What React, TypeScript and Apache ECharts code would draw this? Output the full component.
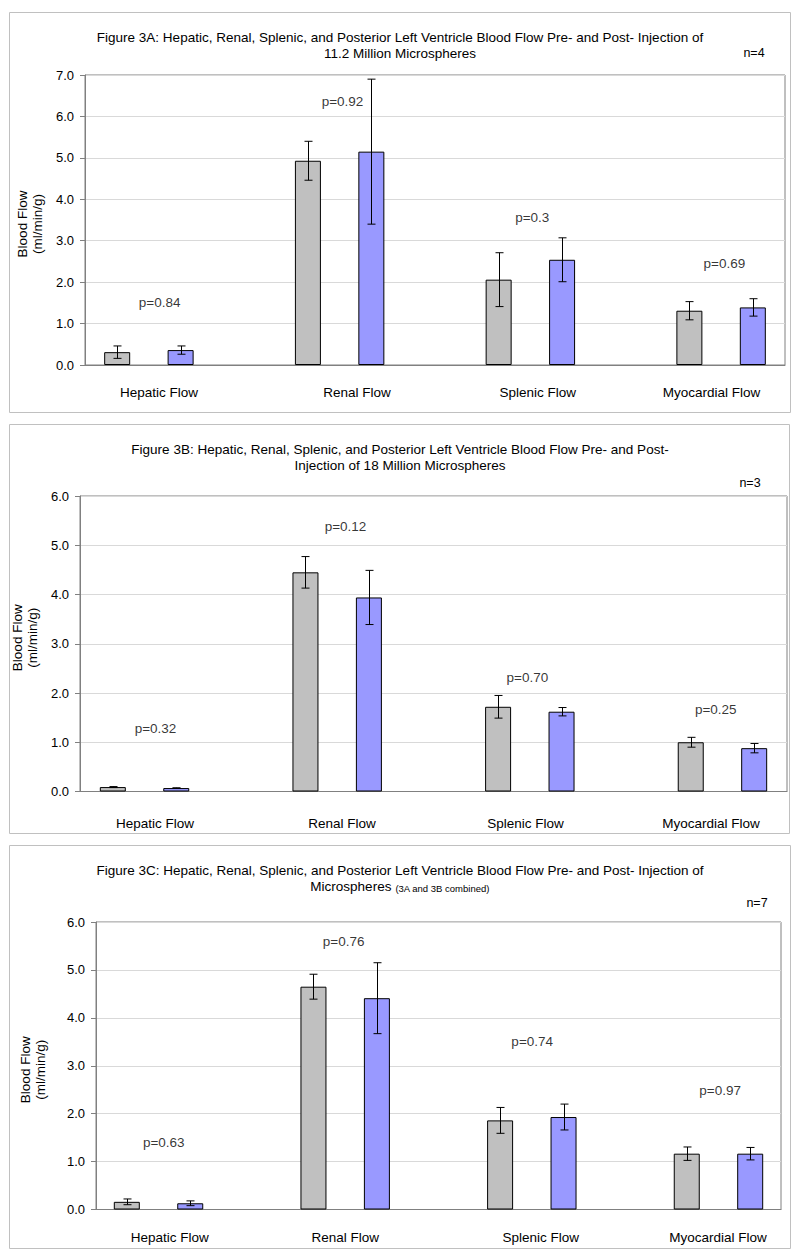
import React, { useEffect, useRef } from "react";
import * as echarts from "echarts";

// ---------------- DATA ----------------
const categories = ["Hepatic Flow", "Renal Flow", "Splenic Flow", "Myocardial Flow"];

// Figure 3A (n=4)
const preA = [0.31, 4.93, 2.06, 1.31];
const preErrA = [0.15, 0.47, 0.65, 0.22];
const postA = [0.36, 5.15, 2.54, 1.39];
const postErrA = [0.1, 1.75, 0.53, 0.21];
const pTextA = ["p=0.84", "p=0.92", "p=0.3", "p=0.69"];
const pXA = [0.056, 1.015, 2.01, 3.017];
const pYA = [1.5, 6.37, 3.56, 2.45];
const yTicksA = ["0.0", "1.0", "2.0", "3.0", "4.0", "5.0", "6.0", "7.0"];

// Figure 3B (n=3)
const preB = [0.09, 4.45, 1.72, 1.0];
const preErrB = [0.01, 0.32, 0.23, 0.1];
const postB = [0.07, 3.94, 1.62, 0.88];
const postErrB = [0.005, 0.55, 0.085, 0.095];
const pTextB = ["p=0.32", "p=0.12", "p=0.70", "p=0.25"];
const pXB = [0.057, 1.043, 1.987, 2.965];
const pYB = [1.27, 5.39, 2.31, 1.655];
const yTicksB = ["0.0", "1.0", "2.0", "3.0", "4.0", "5.0", "6.0"];

// Figure 3C (n=7)
const preC = [0.16, 4.65, 1.86, 1.165];
const preErrC = [0.06, 0.26, 0.27, 0.14];
const postC = [0.13, 4.41, 1.93, 1.165];
const postErrC = [0.05, 0.74, 0.27, 0.13];
const pTextC = ["p=0.63", "p=0.76", "p=0.74", "p=0.97"];
const pXC = [0.028, 0.992, 2.002, 3.009];
const pYC = [1.39, 5.59, 3.5, 2.49];
const yTicksC = ["0.0", "1.0", "2.0", "3.0", "4.0", "5.0", "6.0"];

const titleA =
  "Figure 3A: Hepatic, Renal, Splenic, and Posterior Left Ventricle Blood Flow Pre- and Post- Injection of\n11.2 Million Microspheres";
const titleB =
  "Figure 3B: Hepatic, Renal, Splenic, and Posterior Left Ventricle Blood Flow Pre- and Post-\nInjection of 18 Million Microspheres";
const titleC =
  "Figure 3C: Hepatic, Renal, Splenic, and Posterior Left Ventricle Blood Flow Pre- and Post- Injection of\nMicrospheres {s|(3A and 3B combined)}";
const nTexts = ["n=4", "n=3", "n=7"];
const yAxisName = "Blood Flow\n(ml/min/g)";

// ---------------- LAYOUT / STYLE ----------------
const FONT = "'Liberation Sans', Arial, Helvetica, sans-serif";
const GRAY = "#C0C0C0";
const BLUE = "#9999FF";
const BAR_W = 26;
const BAR_GAP = 1.44; // fraction of bar width
const BAR_OFFSET = (BAR_W * (1 + BAR_GAP)) / 2;

const panels = [
  {
    title: titleA, titleTop: 24, box: [9.5, 12.5, 781, 400], nPos: [754, 53],
    grid: { left: 85, top: 75, width: 700, height: 290 },
    pre: preA, preErr: preErrA, post: postA, postErr: postErrA,
    pText: pTextA, pX: pXA, pY: pYA, yTicks: yTicksA,
    labelPos: [0.053, 1.091, 2.039, 2.95], labelMargin: 20, nameGap: 40, namePad: [0, 8, 0, 0],
  },
  {
    title: titleB, titleTop: 436, box: [9.5, 424.5, 780, 409], nPos: [750, 483],
    grid: { left: 80, top: 496, width: 707, height: 295.5 },
    pre: preB, preErr: preErrB, post: postB, postErr: postErrB,
    pText: pTextB, pX: pXB, pY: pYB, yTicks: yTicksB,
    labelPos: [0.054, 1.025, 1.977, 2.94], labelMargin: 25, nameGap: 35, namePad: [0, 0, 0, 12],
  },
  {
    title: titleC, titleTop: 857, box: [9.5, 845.5, 781, 403], nPos: [757, 903],
    grid: { left: 96, top: 922, width: 685, height: 287.5 },
    pre: preC, preErr: preErrC, post: postC, postErr: postErrC,
    pText: pTextC, pX: pXC, pY: pYC, yTicks: yTicksC,
    labelPos: [0.06, 1.0, 2.048, 2.998], labelMargin: 21, nameGap: 48, namePad: [0, 8, 0, 0],
  },
];

function errorSeries(i: number, means: number[], errs: number[], dir: number) {
  return {
    type: "custom",
    xAxisIndex: i,
    yAxisIndex: i,
    silent: true,
    z: 10,
    data: means.map((m, k) => [k, m - errs[k], m + errs[k]]),
    encode: { x: 0, y: [1, 2] },
    renderItem: (params: any, api: any) => {
      const x = api.value(0);
      const top = api.coord([x, api.value(2)]);
      const bot = api.coord([x, api.value(1)]);
      const cx = Math.round(top[0] + dir * BAR_OFFSET) + 0.5;
      const st = { stroke: "#000", lineWidth: 1 };
      const cap = 4;
      return {
        type: "group",
        children: [
          { type: "line", shape: { x1: cx, y1: top[1], x2: cx, y2: bot[1] }, style: st },
          { type: "line", shape: { x1: cx - cap, y1: top[1], x2: cx + cap, y2: top[1] }, style: st },
          { type: "line", shape: { x1: cx - cap, y1: bot[1], x2: cx + cap, y2: bot[1] }, style: st },
        ],
      };
    },
  };
}

function buildOption() {
  const grids: any[] = [];
  const xAxes: any[] = [];
  const yAxes: any[] = [];
  const series: any[] = [];
  const titles: any[] = [];
  const graphics: any[] = [];

  panels.forEach((p, i) => {
    grids.push({
      ...p.grid,
      show: true,
      borderColor: "#808080",
      borderWidth: 1,
      backgroundColor: "transparent",
      containLabel: false,
      outerBoundsMode: "none",
    });
    xAxes.push({
      type: "value",
      gridIndex: i,
      min: -0.335,
      max: 3.335,
      axisLine: { show: true, onZero: false, lineStyle: { color: "#808080", width: 1 } },
      axisTick: { show: false },
      splitLine: { show: false },
      axisLabel: {
        customValues: p.labelPos,
        formatter: (v: number) => categories[Math.round(v)] ?? "",
        fontSize: 13.5,
        fontFamily: FONT,
        color: "#000",
        margin: p.labelMargin,
      },
    });
    yAxes.push({
      type: "value",
      gridIndex: i,
      min: 0,
      max: p.yTicks.length - 1,
      interval: 1,
      name: yAxisName,
      nameLocation: "middle",
      nameGap: p.nameGap,
      nameTextStyle: { fontSize: 13.5, fontFamily: FONT, color: "#000", lineHeight: 15, padding: p.namePad },
      axisLine: { show: true, onZero: false, lineStyle: { color: "#808080", width: 1 } },
      axisTick: { show: true, length: 5, lineStyle: { color: "#808080" } },
      splitLine: { show: true, lineStyle: { color: "#d9d9d9", width: 1 } },
      axisLabel: {
        formatter: (v: number) => p.yTicks[Math.round(v)] ?? "",
        fontSize: 13,
        fontFamily: FONT,
        color: "#000",
        margin: 11,
      },
    });
    series.push({
      type: "bar",
      name: "Pre",
      xAxisIndex: i,
      yAxisIndex: i,
      barWidth: BAR_W,
      barGap: `${Math.round(BAR_GAP * 100)}%`,
      itemStyle: { color: GRAY, borderColor: "#000", borderWidth: 1 },
      silent: true,
      data: p.pre.map((v, k) => [k, v]),
    });
    series.push({
      type: "bar",
      name: "Post",
      xAxisIndex: i,
      yAxisIndex: i,
      barWidth: BAR_W,
      barGap: `${Math.round(BAR_GAP * 100)}%`,
      itemStyle: { color: BLUE, borderColor: "#000", borderWidth: 1 },
      silent: true,
      data: p.post.map((v, k) => [k, v]),
    });
    series.push(errorSeries(i, p.pre, p.preErr, -1));
    series.push(errorSeries(i, p.post, p.postErr, 1));
    series.push({
      type: "scatter",
      xAxisIndex: i,
      yAxisIndex: i,
      symbolSize: 1,
      silent: true,
      itemStyle: { color: "rgba(0,0,0,0)" },
      label: {
        show: true,
        position: "inside",
        fontSize: 13.5,
        fontFamily: FONT,
        color: "#000",
        formatter: (d: any) => p.pText[d.dataIndex],
      },
      data: p.pX.map((x, k) => [x, p.pY[k]]),
    });
    titles.push({
      text: p.title,
      left: "center",
      top: p.titleTop,
      textStyle: {
        fontSize: 13.5,
        fontWeight: "normal",
        fontFamily: FONT,
        color: "#000",
        lineHeight: 16.5,
        rich: {
          s: { fontSize: 9.5, fontFamily: FONT, color: "#000", lineHeight: 16.5, padding: [3, 0, 0, 0] },
        },
      },
    });
    graphics.push({
      type: "rect",
      shape: { x: p.box[0], y: p.box[1], width: p.box[2], height: p.box[3] },
      style: { fill: "none", stroke: "#c0c0c0", lineWidth: 1 },
      silent: true,
    });
    graphics.push({
      type: "text",
      x: p.nPos[0],
      y: p.nPos[1],
      style: {
        text: nTexts[i],
        font: `12.5px ${FONT}`,
        fill: "#000",
        align: "center",
        verticalAlign: "middle",
      },
      silent: true,
    });
  });

  return {
    animation: false,
    backgroundColor: "#ffffff",
    title: titles,
    grid: grids,
    xAxis: xAxes,
    yAxis: yAxes,
    series,
    graphic: graphics,
  };
}

export default function App() {
  const ref = useRef<HTMLDivElement>(null);
  useEffect(() => {
    if (!ref.current) return;
    const chart = echarts.init(ref.current, undefined, { renderer: "svg" });
    chart.setOption(buildOption() as any);
    return () => chart.dispose();
  }, []);
  return (
    <div
      ref={ref}
      style={{ position: "absolute", left: 0, top: 0, width: 800, height: 1259, background: "#fff" }}
    />
  );
}
